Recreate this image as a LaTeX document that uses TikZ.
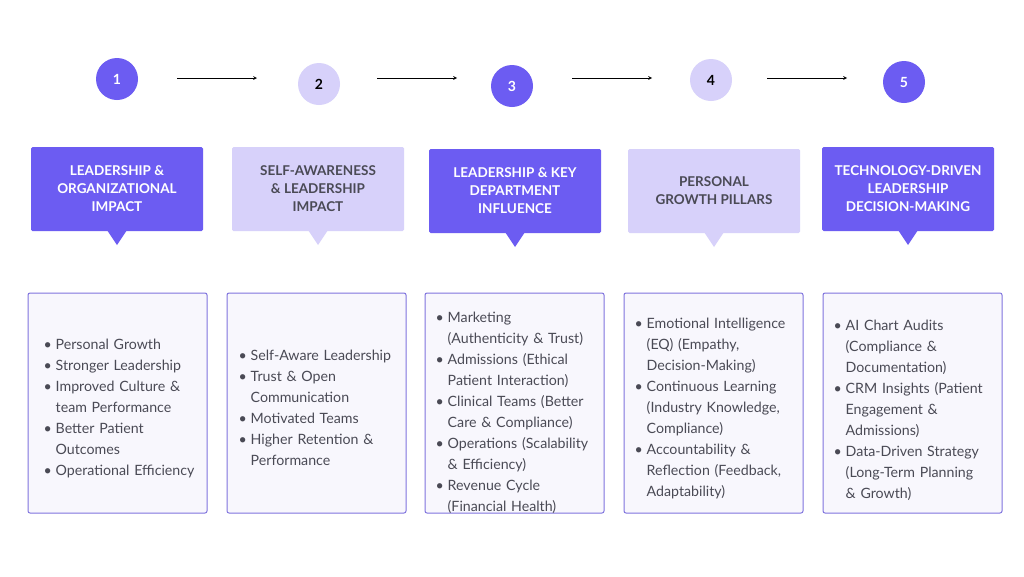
\documentclass[tikz,border=0pt]{standalone}
\usepackage{fontspec}
\setmainfont{Lato}
\definecolor{dk}{HTML}{6C5CF2}
\definecolor{lt}{HTML}{D7D1FA}
\definecolor{bx}{HTML}{F8F7FD}
\definecolor{bd}{HTML}{8074DE}
\definecolor{tx}{HTML}{4A4A55}
\newcommand{\itm}[1]{\par\hangindent=12pt\hangafter=1\noindent\makebox[12pt][l]{\textbullet}#1\par}
\begin{document}
\begin{tikzpicture}[x=1pt,y=-1pt,
 circ/.style={circle,minimum size=42pt,inner sep=0pt,font=\bfseries\fontsize{14}{16}\selectfont},
 cd/.style={circ,fill=dk,text=white},
 cl/.style={circ,fill=lt,text=black},
 hd/.style={rectangle,rounded corners=1.5pt,minimum width=172pt,minimum height=84pt,align=center,font=\bfseries\fontsize{13.5}{18}\selectfont},
 hdd/.style={hd,fill=dk,text=white},
 hdl/.style={hd,fill=lt,text=tx},
 bb/.style={draw=bd,line width=1pt,fill=bx,rounded corners=2pt,minimum width=179pt,minimum height=220pt},
 lst/.style={anchor=west,text width=160pt,align=left,inner sep=0pt,text=tx,font=\fontsize{14.2}{21}\selectfont},
 arr/.style={-stealth,line width=0.7pt}]
\useasboundingbox (0,0) rectangle (1024,576);
\fill[white] (0,0) rectangle (1024,576);
\node[cd] (c1) at (117,79) {1};
\node[cl] (c2) at (319,84) {2};
\node[cd] (c3) at (512,86) {3};
\node[cl] (c4) at (711,80) {4};
\node[cd] (c5) at (904,82) {5};
\coordinate (a1s) at (177,78); \coordinate (a1e) at (257,78);
\coordinate (a2s) at (377,78); \coordinate (a2e) at (457,78);
\coordinate (a3s) at (572,78); \coordinate (a3e) at (652,78);
\coordinate (a4s) at (767,78); \coordinate (a4e) at (847,78);
\draw[arr] (a1s)--(a1e); \draw[arr] (a2s)--(a2e); \draw[arr] (a3s)--(a3e); \draw[arr] (a4s)--(a4e);
% headers
\node[hdd] (h1) at (117,189) {LEADERSHIP \&\\ORGANIZATIONAL\\IMPACT};
\fill[dk] (107,230) -- (127,230) -- (117,245) -- cycle;
\node[hdl] (h2) at (318,189) {SELF-AWARENESS\\\& LEADERSHIP\\IMPACT};
\fill[lt] (308,230) -- (328,230) -- (318,245) -- cycle;
\node[hdd] (h3) at (515,191) {LEADERSHIP \& KEY\\DEPARTMENT\\INFLUENCE};
\fill[dk] (505,232) -- (525,232) -- (515,247) -- cycle;
\node[hdl] (h4) at (714,191) {PERSONAL\\GROWTH PILLARS};
\fill[lt] (704,232) -- (724,232) -- (714,247) -- cycle;
\node[hdd] (h5) at (908,189) {TECHNOLOGY-DRIVEN\\LEADERSHIP\\DECISION-MAKING};
\fill[dk] (898,230) -- (918,230) -- (908,245) -- cycle;
% boxes
\node[bb] (b1) at (117.5,403) {};
\node[bb] (b2) at (316.5,403) {};
\node[bb] (b3) at (514.5,403) {};
\node[bb] (b4) at (713.5,403) {};
\node[bb] (b5) at (912.5,403) {};
\node[lst] (l1) at ([xshift=16pt]b1.west) {\itm{Personal Growth}\itm{Stronger Leadership}\itm{Improved Culture \&\newline team Performance}\itm{Better Patient\newline Outcomes}\itm{Operational Efficiency}};
\node[lst] (l2) at ([xshift=12pt]b2.west) {\itm{Self-Aware Leadership}\itm{Trust \& Open\newline Communication}\itm{Motivated Teams}\itm{Higher Retention \&\newline Performance}};
\node[lst] (l3) at ([xshift=11pt,yshift=-5pt]b3.west) {\itm{Marketing\newline (Authenticity \& Trust)}\itm{Admissions (Ethical\newline Patient Interaction)}\itm{Clinical Teams (Better\newline Care \& Compliance)}\itm{Operations (Scalability\newline \& Efficiency)}\itm{Revenue Cycle\newline (Financial Health)}};
\node[lst] (l4) at ([xshift=11pt]b4.west) {\itm{Emotional Intelligence\newline (EQ) (Empathy,\newline Decision-Making)}\itm{Continuous Learning\newline (Industry Knowledge,\newline Compliance)}\itm{Accountability \&\newline Reflection (Feedback,\newline Adaptability)}};
\node[lst] (l5) at ([xshift=11pt,yshift=-2pt]b5.west) {\itm{AI Chart Audits\newline (Compliance \&\newline Documentation)}\itm{CRM Insights (Patient\newline Engagement \&\newline Admissions)}\itm{Data-Driven Strategy\newline (Long-Term Planning\newline \& Growth)}};
\end{tikzpicture}
\end{document}
